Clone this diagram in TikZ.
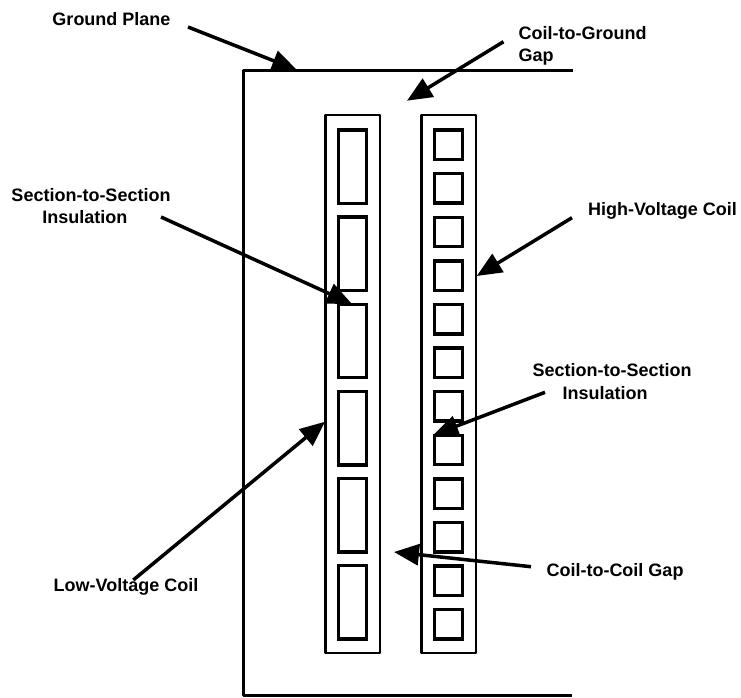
\documentclass[tikz,border=0pt]{standalone}
\usepackage{fontspec}
\setmainfont{Liberation Sans}
\usetikzlibrary{arrows.meta}
\tikzset{
  x=1pt,y=-1pt,
  line/.style={draw=black,line width=3.2pt,line join=round},
  coil/.style={draw=black,line width=2.8pt,line join=round},
  win/.style={draw=black,line width=3.4pt,line join=miter},
  lab/.style={font=\bfseries\fontsize{18}{22.5}\selectfont,inner sep=0pt,text=black},
  arr/.style={draw=black,line width=3.5pt,-{Triangle[length=25pt,width=21pt]}}
}
\begin{document}
\begin{tikzpicture}
\useasboundingbox (0,0) rectangle (741,698);
\draw[line] (573,70.7) -- (243.5,70.7) -- (243.5,695.7) -- (572,695.7);
\draw[coil] (325.5,115) rectangle (380,653);
\draw[coil] (421.7,115) rectangle (476,653);
\foreach \i in {0,...,5}{
  \pgfmathsetmacro{\yy}{130+87.1*\i}
  \draw[win] (338.5,\yy) rectangle (366.7,\yy+73.5);
}
\foreach \i in {0,...,11}{
  \pgfmathsetmacro{\yy}{130+43.6*\i}
  \draw[win] (434.3,\yy) rectangle (462.7,\yy+29.5);
}
\node[lab] (gp) at (111.5,19) {Ground Plane};
\node[lab,align=left] (cg) at (582.5,46) {Coil-to-Ground\\Gap};
\node[lab,align=center] (ssl) at (91,206) {Section-to-Section\\Insulation\hspace*{12.5pt}};
\node[lab] (hv) at (662.5,210.5) {High-Voltage Coil};
\node[lab,align=center] (ssr) at (612,381.5) {Section-to-Section\\Insulation\hspace*{14pt}};
\node[lab] (lv) at (126,587) {Low-Voltage Coil};
\node[lab] (cc) at (615,571.5) {Coil-to-Coil Gap};
\coordinate (gps) at (188,27);
\coordinate (gpt) at (297,70);
\coordinate (cgs) at (503.5,41.7);
\coordinate (cgt) at (407,100.7);
\coordinate (ssls) at (161,217);
\coordinate (sslt) at (352,304);
\coordinate (hvs) at (572,217.7);
\coordinate (hvt) at (476.7,276);
\coordinate (ssrs) at (545,392.3);
\coordinate (ssrt) at (433.3,435);
\coordinate (lvs) at (133.3,580);
\coordinate (lvt) at (325,421.7);
\coordinate (ccs) at (531,566.7);
\coordinate (cct) at (394,552);
\foreach \a/\b in {gps/gpt,cgs/cgt,ssls/sslt,hvs/hvt,ssrs/ssrt,lvs/lvt,ccs/cct}{
  \draw[arr] (\a) -- (\b);
}
\end{tikzpicture}
\end{document}
